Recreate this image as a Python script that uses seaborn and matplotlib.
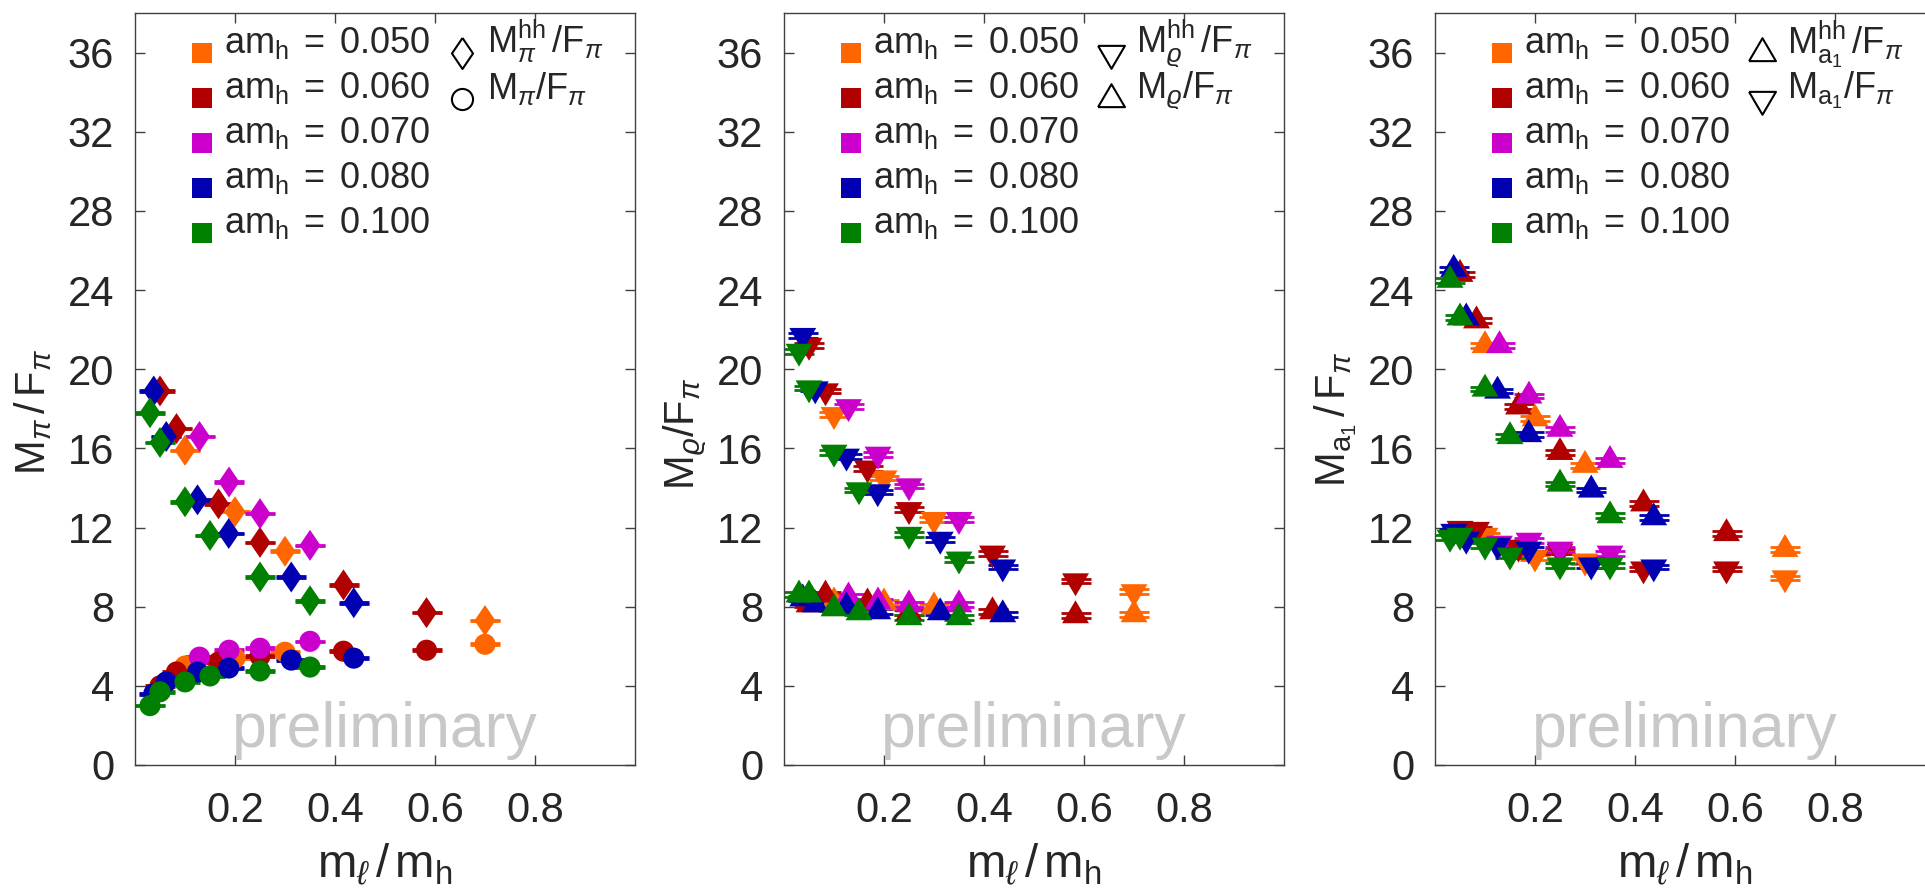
import matplotlib
matplotlib.use("Agg")
import matplotlib.pyplot as plt
import numpy as np
import pandas as pd
import seaborn as sns

# ---------------- data ----------------
MASSES = ["0.050", "0.060", "0.070", "0.080", "0.100"]
COLORS = ["#FF6600", "#B00000", "#CC00CC", "#0000B0", "#007F00"]

# m_l / m_h for each heavy mass
X_050 = [0.100, 0.200, 0.300, 0.700]
X_060 = [0.050, 0.083, 0.167, 0.250, 0.417, 0.583]
X_070 = [0.129, 0.188, 0.250, 0.350]
X_080 = [0.0375, 0.0625, 0.125, 0.1875, 0.3125, 0.4375]
X_100 = [0.030, 0.050, 0.100, 0.150, 0.250, 0.350]

# panel 1: M_pi^hh / F_pi  and  M_pi / F_pi
PIHH_050 = [15.9, 12.8, 10.8, 7.3]
PIHH_060 = [18.9, 17.0, 13.2, 11.25, 9.1, 7.7]
PIHH_070 = [16.6, 14.3, 12.7, 11.1]
PIHH_080 = [18.9, 16.6, 13.4, 11.7, 9.5, 8.2]
PIHH_100 = [17.8, 16.3, 13.3, 11.6, 9.5, 8.3]

PI_050 = [5.0, 5.4, 5.7, 6.1]
PI_060 = [4.0, 4.7, 5.2, 5.5, 5.75, 5.8]
PI_070 = [5.45, 5.8, 5.9, 6.25]
PI_080 = [3.6, 4.2, 4.7, 4.9, 5.3, 5.4]
PI_100 = [3.0, 3.7, 4.2, 4.5, 4.75, 4.95]

# panel 2: M_rho^hh / F_pi  and  M_rho / F_pi
RHOHH_050 = [17.7, 14.5, 12.4, 8.75]
RHOHH_060 = [21.2, 18.9, 15.0, 12.9, 10.7, 9.3]
RHOHH_070 = [18.1, 15.7, 14.1, 12.4]
RHOHH_080 = [21.7, 19.0, 15.6, 13.8, 11.4, 10.0]
RHOHH_100 = [20.9, 19.05, 15.8, 13.9, 11.65, 10.4]

RHO_050 = [8.25, 8.2, 8.0, 7.6]
RHO_060 = [8.1, 8.6, 8.2, 7.7, 7.75, 7.55]
RHO_070 = [8.5, 8.25, 8.1, 8.1]
RHO_080 = [8.4, 8.1, 8.0, 7.75, 7.7, 7.6]
RHO_100 = [8.6, 8.6, 7.9, 7.7, 7.45, 7.45]

# panel 3: M_a1^hh / F_pi  and  M_a1 / F_pi
A1HH_050 = [21.2, 17.5, 15.15, 10.9]
A1HH_060 = [24.8, 22.45, 18.1, 15.8, 13.2, 11.7]
A1HH_070 = [21.2, 18.65, 16.97, 15.4]
A1HH_080 = [25.05, 22.6, 18.9, 16.7, 13.9, 12.5]
A1HH_100 = [24.5, 22.6, 19.0, 16.6, 14.2, 12.6]

A1_050 = [11.6, 10.5, 10.3, 9.45]
A1_060 = [11.95, 11.9, 11.0, 10.8, 9.9, 9.9]
A1_070 = [11.2, 11.35, 10.9, 10.7]
A1_080 = [11.8, 11.4, 11.1, 10.9, 10.1, 10.0]
A1_100 = [11.5, 11.6, 11.1, 10.6, 10.1, 10.1]

ERR_P1 = 0.04
ERR_P2 = 0.12
ERR_P3 = 0.12

XTICKS = [0.2, 0.4, 0.6, 0.8]
YTICKS = [0, 4, 8, 12, 16, 20, 24, 28, 32, 36]

X_ALL = [X_050, X_060, X_070, X_080, X_100]

# ---------------- style ----------------
sns.set_style("ticks")
plt.rcParams["font.family"] = ["Liberation Sans", "DejaVu Sans"]
plt.rcParams.update({
    "mathtext.fontset": "custom",
    "mathtext.rm": "Liberation Sans",
    "mathtext.it": "Liberation Sans:italic",
    "mathtext.bf": "Liberation Sans:bold",
    "mathtext.sf": "Liberation Sans",
    "mathtext.fallback": "cm",
})

DIAMOND = [(0, 0.5), (0.34, 0), (0, -0.5), (-0.34, 0), (0, 0.5)]
TRI_UP = [(-0.5, -0.284), (0.5, -0.284), (0, 0.568), (-0.5, -0.284)]
TRI_DN = [(-0.5, 0.284), (0.5, 0.284), (0, -0.568), (-0.5, 0.284)]

MK = {"D": (DIAMOND, 22.3), "o": ("o", 15.2), "^": (TRI_UP, 22.0), "v": (TRI_DN, 22.0)}

PANELS = [
    dict(hh=[PIHH_050, PIHH_060, PIHH_070, PIHH_080, PIHH_100],
         ll=[PI_050, PI_060, PI_070, PI_080, PI_100],
         mk_hh="D", mk_ll="o", err=ERR_P1,
         ylabel=r"$\mathrm{M}_{\pi}\,/\,\mathrm{F}_{\pi}$",
         lab_hh=r"$\mathrm{M}^{\mathrm{hh}}_{\pi}\,/\mathrm{F}_{\pi}$",
         lab_ll=r"$\mathrm{M}_{\pi}/\mathrm{F}_{\pi}$", ly=0.47),
    dict(hh=[RHOHH_050, RHOHH_060, RHOHH_070, RHOHH_080, RHOHH_100],
         ll=[RHO_050, RHO_060, RHO_070, RHO_080, RHO_100],
         mk_hh="v", mk_ll="^", err=ERR_P2,
         ylabel=r"$\mathrm{M}_{\varrho}/\mathrm{F}_{\pi}$",
         lab_hh=r"$\mathrm{M}^{\mathrm{hh}}_{\varrho}\,/\mathrm{F}_{\pi}$",
         lab_ll=r"$\mathrm{M}_{\varrho}/\mathrm{F}_{\pi}$", ly=0.44),
    dict(hh=[A1HH_050, A1HH_060, A1HH_070, A1HH_080, A1HH_100],
         ll=[A1_050, A1_060, A1_070, A1_080, A1_100],
         mk_hh="^", mk_ll="v", err=ERR_P3,
         ylabel=r"$\mathrm{M}_{\mathrm{a_1}}\,/\,\mathrm{F}_{\pi}$",
         lab_hh=r"$\mathrm{M}^{\mathrm{hh}}_{\mathrm{a_1}}\,/\mathrm{F}_{\pi}$",
         lab_ll=r"$\mathrm{M}_{\mathrm{a_1}}/\mathrm{F}_{\pi}$", ly=0.46),
]

W, H = 1925, 889
fig = plt.figure(figsize=(W / 100, H / 100), dpi=100)
lefts = [135, 784, 1435]
axw, top, bot = 500, 13, 765

palette = dict(zip(MASSES, COLORS))
SPINE = "#404040"
TXT = "#262626"

for p, left in zip(PANELS, lefts):
    ax = fig.add_axes([left / W, 1 - bot / H, axw / W, (bot - top) / H])
    rows = []
    for obs in ("hh", "ll"):
        for m, xs, ys in zip(MASSES, X_ALL, p[obs]):
            for xv, yv in zip(xs, ys):
                rows.append(dict(x=xv, y=yv, mass=m, obs=obs))
    df = pd.DataFrame(rows)

    for obs in ("ll", "hh"):
        sub = df[df.obs == obs]
        marker, ms = MK[p["mk_" + obs]]
        for m, c in zip(MASSES, COLORS):
            s2 = sub[sub.mass == m]
            ax.errorbar(s2.x, s2.y, yerr=p["err"], fmt="none", ecolor=c,
                        elinewidth=1.5, capsize=10.8, capthick=2.0, zorder=2)
        sns.scatterplot(data=sub, x="x", y="y", hue="mass", hue_order=MASSES,
                        palette=palette, marker=marker, s=ms ** 2,
                        linewidth=0, legend=False, ax=ax, zorder=3)

    ax.set_xlim(0, 1)
    ax.set_ylim(0, 38)
    ax.set_xticks(XTICKS)
    ax.set_xticklabels([f"{t:.1f}" for t in XTICKS])
    ax.set_yticks(YTICKS)
    ax.set_yticklabels([str(t) for t in YTICKS])
    ax.tick_params(axis="both", direction="in", length=7, width=1.0,
                   color=SPINE, labelcolor=TXT, labelsize=30,
                   top=True, right=True)
    ax.tick_params(axis="x", pad=18.5)
    ax.tick_params(axis="y", pad=15)
    for sp in ax.spines.values():
        sp.set_color(SPINE)
        sp.set_linewidth(1.0)

    ax.set_xlabel(r"$\mathrm{m}_{\ell}\,/\,\mathrm{m}_{\mathrm{h}}$", fontsize=34,
                  color=TXT)
    ax.xaxis.label.set_va("baseline")
    ax.xaxis.set_label_coords(0.5, -(877 - bot) / (bot - top))
    ax.set_ylabel(p["ylabel"], fontsize=30, color=TXT)
    ax.yaxis.label.set_va("baseline")
    ax.yaxis.set_label_coords(-0.18, p["ly"])

    ax.text(0.5, 0.024, "preliminary", transform=ax.transAxes, ha="center",
            va="baseline", fontsize=45, color="#C8C8C8", zorder=1)

    # legend, column 1: colour squares
    y0 = (bot - 53.3) / (bot - top)
    dy = 45.0 / (bot - top)
    for i, (m, c) in enumerate(zip(MASSES, COLORS)):
        yy = y0 - i * dy
        ax.plot([0.1334], [yy], marker="s", ms=13.7, mfc=c, mec=c, mew=0,
                ls="none", transform=ax.transAxes, clip_on=False, zorder=5)
        ax.text(0.178, yy, r"$\mathrm{am_h\;=\;" + m + "}$", transform=ax.transAxes,
                ha="left", va="baseline", fontsize=26, color=TXT)
    # legend, column 2: open markers
    for i, obs in enumerate(("hh", "ll")):
        yy = y0 - i * (45.6 / (bot - top))
        marker, ms = MK[p["mk_" + obs]]
        ax.plot([0.654], [yy], marker=marker, ms=ms, mfc="white", mec="black",
                mew=1.5, ls="none", transform=ax.transAxes, clip_on=False, zorder=5)
        ax.text(0.704, yy, p["lab_" + obs], transform=ax.transAxes,
                ha="left", va="baseline", fontsize=26, color=TXT)

fig.savefig("out.png", dpi=100)
